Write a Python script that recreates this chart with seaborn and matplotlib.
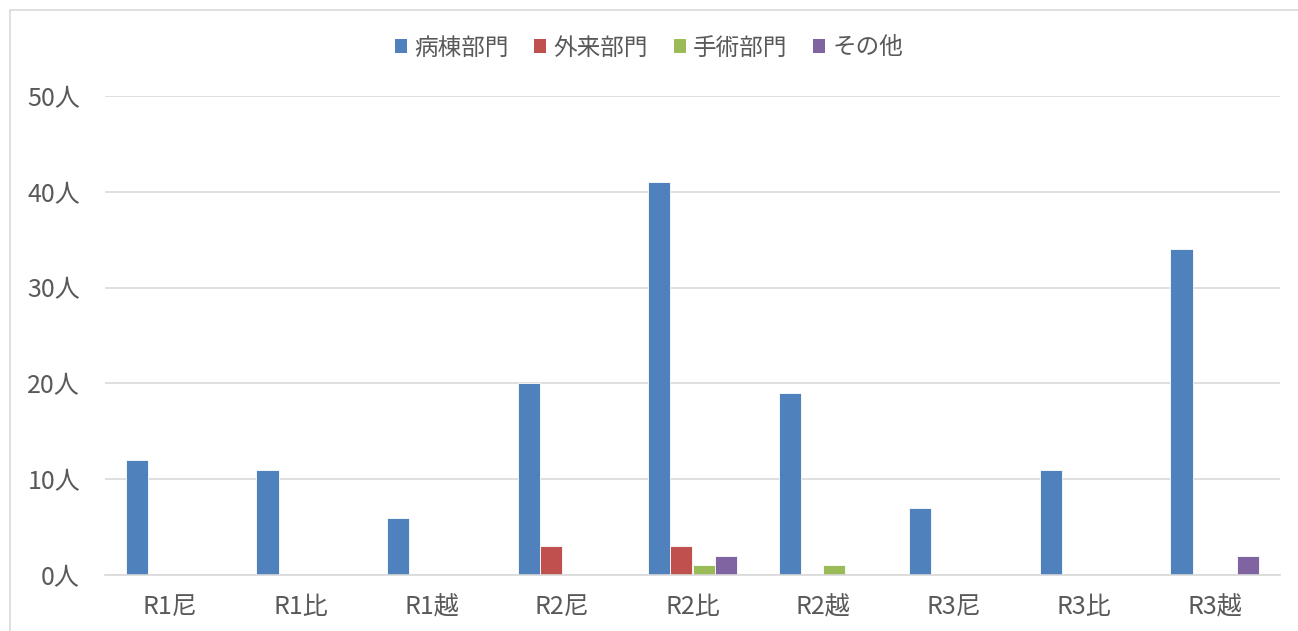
import pandas as pd
import matplotlib.pyplot as plt
import seaborn as sns
from matplotlib.patches import Patch, Rectangle

categories = ["R1尼", "R1比", "R1越", "R2尼", "R2比", "R2越", "R3尼", "R3比", "R3越"]
series = ["病棟部門", "外来部門", "手術部門", "その他"]
byoto = [12, 11, 6, 20, 41, 19, 7, 11, 34]
gairai = [0, 0, 0, 3, 3, 0, 0, 0, 0]
shujutsu = [0, 0, 0, 0, 1, 1, 0, 0, 0]
sonota = [0, 0, 0, 0, 2, 0, 0, 0, 2]
yticks = [0, 10, 20, 30, 40, 50]

colors = ["#4F81BD", "#C0504D", "#9BBB59", "#8064A2"]
text_color = "#595959"

rows = []
for name, vals in zip(series, [byoto, gairai, shujutsu, sonota]):
    for cat, v in zip(categories, vals):
        rows.append({"cat": cat, "series": name, "value": v})
df = pd.DataFrame(rows)

sns.set_theme(style="white")
plt.rcParams["font.family"] = ["Noto Sans CJK JP", "DejaVu Sans"]

fig = plt.figure(figsize=(12.98, 6.31), dpi=100)
ax = fig.add_axes([105 / 1298, 1 - 575 / 631, 1175 / 1298, 479 / 631])

sns.barplot(data=df, x="cat", y="value", hue="series", order=categories,
            hue_order=series, palette=colors, width=0.68, gap=0,
            saturation=1, errorbar=None, legend=False, ax=ax,
            edgecolor="white", linewidth=0.6)

ax.set_ylim(0, 50)
ax.set_yticks(yticks)
ax.set_yticklabels([f"{t}人" for t in yticks], fontsize=18, color=text_color)
ax.set_xlim(-0.5, len(categories) - 0.5)
ax.tick_params(axis="x", labelsize=18, colors=text_color, length=0, pad=14)
ax.tick_params(axis="y", length=0, pad=18)
ax.set_xlabel("")
ax.set_ylabel("")
ax.yaxis.grid(True, color="#D9D9D9", linewidth=1.2)
ax.set_axisbelow(True)
for side in ["top", "right", "left"]:
    ax.spines[side].set_visible(False)
ax.spines["bottom"].set_color("#D9D9D9")
ax.spines["bottom"].set_linewidth(1.2)

handles = [Patch(facecolor=c, edgecolor="none") for c in colors]
fig.legend(handles, series, loc="center", bbox_to_anchor=(0.5, 1 - 48 / 631),
           ncol=4, frameon=False, fontsize=17, handlelength=0.5,
           handleheight=0.5, handletextpad=0.3, columnspacing=1.1,
           labelcolor=text_color)

fig.patches.append(Rectangle((10 / 1298, -0.1), 1.2, 1 - 10 / 631 + 0.1,
                             transform=fig.transFigure, fill=False,
                             edgecolor="#D9D9D9", linewidth=1.2))

fig.savefig("out.png", dpi=100)
